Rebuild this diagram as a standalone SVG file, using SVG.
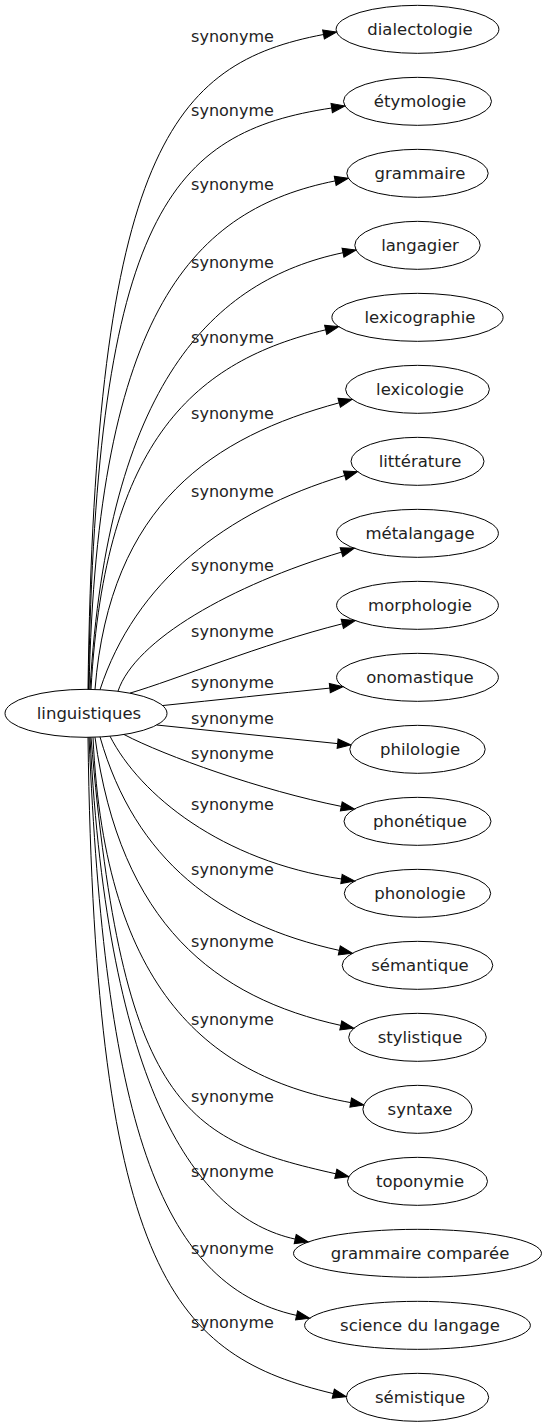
<svg xmlns="http://www.w3.org/2000/svg" width="546" height="1427" viewBox="0 0 546 1427">
<style>
.n ellipse{fill:none;stroke:#000;stroke-width:1}
.n text{font-family:"DejaVu Sans",Verdana,sans-serif;font-size:16.5px;fill:#222;text-anchor:middle}
.e path{fill:none;stroke:#000;stroke-width:1;marker-end:url(#a)}
.e text{font-family:"DejaVu Sans",Verdana,sans-serif;font-size:16px;fill:#222;text-anchor:middle}
</style>
<defs>
<marker id="a" markerWidth="14" markerHeight="10" refX="0" refY="4.67" orient="auto" markerUnits="userSpaceOnUse" overflow="visible">
<path d="M0,0 L13.33,4.67 L0,9.33 Z" fill="#000" stroke="#000" stroke-width="1"/>
</marker>
</defs>
<rect width="546" height="1427" fill="#fff"/>
<g id="edges" class="e">
<path d="M88,689.3 C95,150 172.9,63.1 323.5,34.5"/>
<path d="M88.5,689.3 C96,213.1 171.7,132 331.7,108"/>
<path d="M89,689.3 C97,308 195.2,208.9 335.2,180.9"/>
<path d="M90,689.3 C108,383.6 213,280 343,252.7"/>
<path d="M91,689.3 C105,437.5 196.7,360.8 325.7,329.8"/>
<path d="M95,689.4 C110,503.1 214.2,436.55 339.2,402.8"/>
<path d="M100,689.7 C135,582.6 224.7,511.5 344.7,475.5"/>
<path d="M118,691.2 C135,640 231.5,585.1 341.5,552.1"/>
<path d="M130,693.1 C175,680 262.3,643.8 342.3,623.8"/>
<path d="M163,705.5 C218,699.8 275,693.8 329.8,688.1"/>
<path d="M156.7,725 C217,731.2 277,737.4 337.6,743.6"/>
<path d="M124,734.5 C165,756 261.3,790.4 341.3,806.4"/>
<path d="M110,736.2 C140,795 221.5,861 341.5,879"/>
<path d="M100,736.9 C135,860 219.3,924 339.3,950.4"/>
<path d="M95,737.2 C120,924.5 215.8,997.9 340.8,1025.4"/>
<path d="M93,737.3 C105,993 210.7,1077.4 350.7,1102.6"/>
<path d="M91,737.3 C122,1108.3 185.8,1140 335.8,1173.8"/>
<path d="M90,737.3 C108,1088.6 195.2,1217.1 295.2,1239.1"/>
<path d="M89,737.3 C105,1113 156.6,1284.6 296.6,1315.4"/>
<path d="M88,737.3 C95,1278.2 176.3,1355.9 333.3,1393.6"/>
<text x="232.5" y="41.5">synonyme</text>
<text x="232.5" y="116">synonyme</text>
<text x="232.5" y="190">synonyme</text>
<text x="232.5" y="268">synonyme</text>
<text x="232.5" y="343">synonyme</text>
<text x="232.5" y="419">synonyme</text>
<text x="232.5" y="497">synonyme</text>
<text x="232.5" y="571">synonyme</text>
<text x="232.5" y="637">synonyme</text>
<text x="232.5" y="688">synonyme</text>
<text x="232.5" y="724">synonyme</text>
<text x="232.5" y="759">synonyme</text>
<text x="232.5" y="810">synonyme</text>
<text x="232.5" y="875">synonyme</text>
<text x="232.5" y="947">synonyme</text>
<text x="232.5" y="1025">synonyme</text>
<text x="232.5" y="1102">synonyme</text>
<text x="232.5" y="1177">synonyme</text>
<text x="232.5" y="1254">synonyme</text>
<text x="232.5" y="1328">synonyme</text>
</g>
<g id="linguistiques" class="n"><ellipse cx="86" cy="713.33" rx="81" ry="24"/><text x="89" y="718.5">linguistiques</text></g>
<g id="dialectologie" class="n"><ellipse cx="417.5" cy="29.33" rx="81.4" ry="24"/><text x="420" y="34.5">dialectologie</text></g>
<g id="etymologie" class="n"><ellipse cx="417.5" cy="101.33" rx="74" ry="24"/><text x="420" y="106.5">étymologie</text></g>
<g id="grammaire" class="n"><ellipse cx="417.5" cy="173.33" rx="70.7" ry="24"/><text x="420" y="178.5">grammaire</text></g>
<g id="langagier" class="n"><ellipse cx="417.5" cy="245.33" rx="62.7" ry="24"/><text x="420" y="250.5">langagier</text></g>
<g id="lexicographie" class="n"><ellipse cx="417.5" cy="317.33" rx="85.6" ry="24"/><text x="420" y="322.5">lexicographie</text></g>
<g id="lexicologie" class="n"><ellipse cx="417.5" cy="389.33" rx="71.9" ry="24"/><text x="420" y="394.5">lexicologie</text></g>
<g id="litterature" class="n"><ellipse cx="417.5" cy="461.33" rx="66.5" ry="24"/><text x="420" y="466.5">littérature</text></g>
<g id="metalangage" class="n"><ellipse cx="417.5" cy="533.33" rx="80.9" ry="24"/><text x="420" y="538.5">métalangage</text></g>
<g id="morphologie" class="n"><ellipse cx="417.5" cy="605.33" rx="80.9" ry="24"/><text x="420" y="610.5">morphologie</text></g>
<g id="onomastique" class="n"><ellipse cx="417.5" cy="677.33" rx="80.9" ry="24"/><text x="420" y="682.5">onomastique</text></g>
<g id="philologie" class="n"><ellipse cx="417.5" cy="749.33" rx="67.7" ry="24"/><text x="420" y="754.5">philologie</text></g>
<g id="phonetique" class="n"><ellipse cx="417.5" cy="821.33" rx="73.5" ry="24"/><text x="420" y="826.5">phonétique</text></g>
<g id="phonologie" class="n"><ellipse cx="417.5" cy="893.33" rx="73.2" ry="24"/><text x="420" y="898.5">phonologie</text></g>
<g id="semantique" class="n"><ellipse cx="417.5" cy="965.33" rx="75.3" ry="24"/><text x="420" y="970.5">sémantique</text></g>
<g id="stylistique" class="n"><ellipse cx="417.5" cy="1037.33" rx="68.8" ry="24"/><text x="420" y="1042.5">stylistique</text></g>
<g id="syntaxe" class="n"><ellipse cx="417.5" cy="1109.33" rx="54.6" ry="24"/><text x="420" y="1114.5">syntaxe</text></g>
<g id="toponymie" class="n"><ellipse cx="417.5" cy="1181.33" rx="70" ry="24"/><text x="420" y="1186.5">toponymie</text></g>
<g id="grammaire_comparee" class="n"><ellipse cx="417.5" cy="1253.33" rx="124" ry="24"/><text x="420" y="1258.5">grammaire comparée</text></g>
<g id="science_du_langage" class="n"><ellipse cx="417.5" cy="1325.33" rx="112.9" ry="24"/><text x="420" y="1330.5">science du langage</text></g>
<g id="semistique" class="n"><ellipse cx="417.5" cy="1397.33" rx="71.2" ry="24"/><text x="420" y="1402.5">sémistique</text></g>
</svg>
